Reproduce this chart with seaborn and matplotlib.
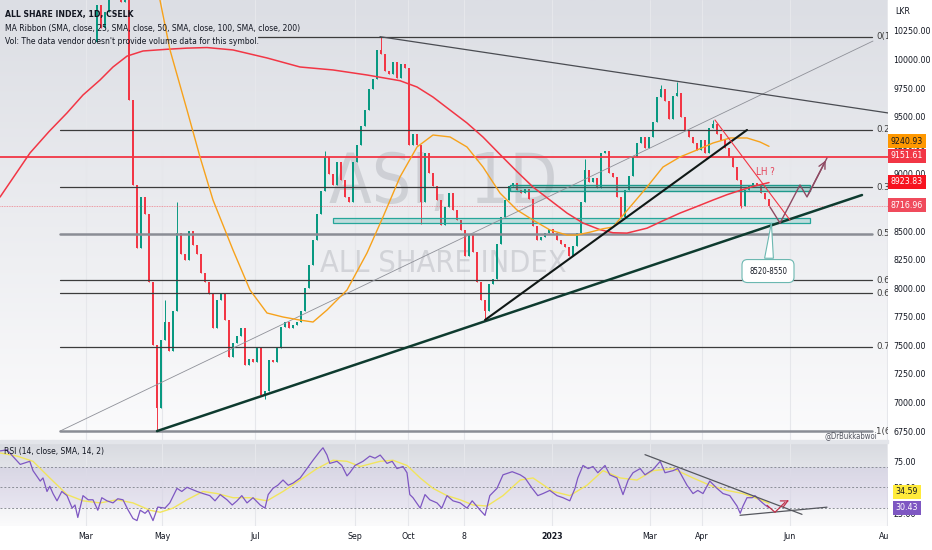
import numpy as np
import pandas as pd
import matplotlib
matplotlib.use("Agg")
import matplotlib.pyplot as plt
import seaborn as sns
from matplotlib import font_manager as fm
from matplotlib.colors import LinearSegmentedColormap
from matplotlib.patches import Rectangle, Polygon
from matplotlib.transforms import Bbox, TransformedBbox

# ---------------- data ----------------
# daily-ish closes, one bar per step, starting early March 2022
first_open = 10150
closes = [10480, 10280, 10420, 10560, 10600, 10650, 10500, 10560, 9650, 8900,
          8350, 8800, 8650, 8050, 7500, 6950, 7550, 7700, 7450, 7800,
          8480, 8300, 8250, 8500, 8380, 8300, 8130, 8050, 7950, 7650,
          7900, 7960, 7720, 7400, 7520, 7580, 7650, 7330, 7380, 7350,
          7480, 7070, 7100, 7370, 7350, 7480, 7660, 7700, 7650, 7680,
          7700, 7800, 8000, 8200, 8420, 8650, 8850, 9150, 9000, 8900,
          9100, 8950, 8800, 8750, 9100, 9250, 9420, 9560, 9740, 9830,
          10080, 10050, 9900, 9870, 9980, 9840, 9960, 9930, 9250, 9350,
          9250, 8750, 9180, 9010, 8890, 8770, 8550, 8710, 8830, 8680,
          8600, 8510, 8280, 8470, 8320, 8050, 7900, 7800, 8040, 8080,
          8390, 8620, 8770, 8890, 8920, 8860, 8830, 8870, 8780, 8540,
          8420, 8450, 8480, 8520, 8480, 8420, 8390, 8360, 8280, 8370,
          8480, 8750, 9030, 8930, 8960, 8880, 9180, 9200, 9010, 8970,
          8800, 8620, 8860, 8980, 9150, 9270, 9320, 9230, 9320, 9450,
          9670, 9740, 9640, 9480, 9680, 9710, 9500, 9380, 9320, 9270,
          9210, 9300, 9180, 9400, 9440, 9350, 9300, 9230, 9150, 9060,
          8950, 8720, 8860, 8900, 8920, 8900, 8830, 8780, 8716.96]
bar_highs = {17: 7900, 20: 8750, 57: 9200, 71: 10200, 122: 9130, 141: 9780, 145: 9800, 154: 9470}
bar_lows = {15: 6750, 42: 7030, 81: 8560, 97: 7720, 161: 8700}

# MA ribbon lines (bar position, value)
ma_long_x = [-24.25, -20.5, -16.75, -12, -7.5, -3.5, 0.75, 4, 7.5, 11.5, 17.5, 22.5, 27.5, 34, 42.5,
             50.75, 59, 67.5, 75.75, 80, 84, 88, 92.5, 96.5, 100.75, 105, 109, 113.25, 117.5,
             121.5, 125.75, 129, 132.5, 137.5, 141.5, 145.75, 150, 154, 157.5, 160.75, 164, 168]
ma_long_v = [8797, 8990, 9183, 9370, 9533, 9690, 9821, 9935, 10030, 10075, 10090, 10100, 10105, 10084,
             10014, 9935, 9909, 9865, 9815, 9760, 9672, 9565, 9445, 9322, 9170, 9020, 8885, 8771,
             8657, 8570, 8512, 8485, 8482, 8525, 8590, 8657, 8715, 8771, 8818, 8855, 8890, 8923.83]
ma_mid_x = [15, 18.25, 22.5, 25.75, 29, 34, 38.25, 42.5, 46.5, 50.75, 54, 57.5, 62.5, 67.5, 71.5,
            75.75, 80, 84, 88.25, 92.5, 96.5, 100.75, 105, 109, 113.25, 117.5, 120, 123.25,
            126.5, 129, 133.25, 137.5, 141.5, 145.75, 150, 154, 158.25, 162.5, 165.75, 168]
ma_mid_v = [10650, 10084, 9559, 9148, 8771, 8334, 7984, 7783, 7748, 7721, 7704, 7809, 7984, 8308, 8623,
            8973, 9235, 9340, 9323, 9235, 9060, 8832, 8684, 8596, 8509, 8465, 8465, 8490,
            8520, 8535, 8710, 8885, 9060, 9148, 9209, 9270, 9314, 9314, 9279, 9240.93]

# RSI (14) and its SMA
rsi_x = [-24.2, -22.5, -19.2, -16.8, -16, -14.2, -13.5, -12.5, -11.8, -11, -10, -8.8, -7.5, -6.2,
         -5.5, -4.8, -3.5, -2.2, -1, 0.2, 1.2, 2.5, 4, 5.2, 6.5, 7.8, 9, 10, 10.8, 12, 12.8, 14,
         15.2, 17, 18.2, 20, 21.2, 22.5, 25, 26.5, 28.2, 29.5, 30.8, 32.5, 33.8, 35, 36.2, 37.5,
         39, 40.8, 42, 42.8, 44, 45.2, 46.5, 47.8, 49, 50.8, 52.5, 54, 55.8, 56.5, 57.5, 58.2,
         60, 61.2, 62.5, 63.2, 64.5, 66.5, 68.2, 69.5, 70.8, 72.5, 73.8, 75, 76.5, 77.5, 78.2,
         79, 80.8, 82, 83.2, 85, 86.2, 87.5, 89, 90.8, 92.5, 93.8, 95.8, 97, 98.2, 100, 101.5,
         103.8, 105.8, 107, 108.8, 110.2, 111.5, 113.2, 115, 116.5, 118.2, 119.5, 120.2, 121.5,
         122.8, 124, 125.2, 127, 128.2, 130, 131.5, 132.8, 134, 135.8, 137, 139, 140.8, 142,
         144, 145.2, 147.5, 149, 150.2, 151.5, 153.2, 155, 156.5, 158.2, 160, 160.8, 161.5,
         162.5, 163.8, 164.5, 165.8, 167, 168]
rsi_v = [85, 86, 72, 75, 66, 56, 59, 46, 51, 44, 37, 46, 42, 30,
         33, 21, 42, 38, 38, 28, 40, 37, 35, 39, 38, 28, 20, 18, 28, 25, 28, 18,
         31, 30, 35, 49, 46, 50, 46, 44, 42, 37, 43, 38, 33, 37, 42, 35,
         40, 33, 30, 43, 49, 52, 57, 52, 54, 59, 68, 76, 85, 88, 81, 73,
         75, 71, 61, 64, 71, 75, 80, 78, 81, 73, 75, 68, 70, 64, 43,
         40, 30, 43, 38, 35, 30, 42, 37, 35, 30, 37, 28, 23, 42, 49, 62,
         65, 62, 59, 49, 42, 44, 47, 42, 40, 37, 49, 59, 71,
         68, 70, 64, 71, 62, 59, 43, 57, 64, 68, 62, 67, 75, 64,
         66, 68, 52, 44, 47, 44, 56, 49, 44, 42, 32, 25, 32,
         40, 40, 42, 37, 33, 30.43]
rsi_ma_x = [-24.2, -20, -16, -11.8, -7.5, -3.5, 0.8, 5, 9, 13.2, 15.8, 19, 22.5, 26.5, 30, 34,
            38.2, 42.5, 46.5, 50.8, 55, 59, 62.5, 65.8, 70.8, 74, 77.5, 80.8, 84, 87.5, 90.8,
            94, 97.5, 101.5, 105.8, 109, 114, 118.2, 122.5, 126.5, 130.8, 135, 139, 144, 149,
            153.2, 157.5, 161.5, 165.8, 168]
rsi_ma_v = [83, 80, 75, 59, 43, 37, 35, 38, 35, 28, 26, 30, 38, 46, 44, 40,
            40, 37, 46, 57, 68, 76, 75, 70, 75, 76, 71, 59, 49, 42, 38,
            33, 32, 42, 57, 59, 46, 42, 52, 66, 59, 57, 66, 68, 59,
            52, 47, 44, 38, 34.59]

price_ticks = list(range(6750, 10251, 250))
x_tick_bars = [-2.75, 16.25, 39.5, 64.5, 77.75, 91.75, 113.75, 138.25, 151.25, 173.25, 197.5]
x_tick_labels = ["Mar", "May", "Jul", "Sep", "Oct", "8", "2023", "Mar", "Apr", "Jun", "Aug"]

fib_high, fib_low = 10200, 6750
fib_ratios = [0, 0.236, 0.382, 0.5, 0.618, 0.65, 0.786, 1]
red_level = 9151.61
last_price = 8716.96

# ---------------- styling ----------------
sns.set_theme(style="white")
W, H = 932, 550
GREEN, RED = "#089981", "#f23645"


def pick_font(bold=False):
    for f in fm.fontManager.ttflist:
        w = f.weight if isinstance(f.weight, int) else fm.weight_dict.get(f.weight, 400)
        if ("Narrow" in f.name or "Condensed" in f.fname) and (w >= 600) == bold and f.style == "normal":
            return fm.FontProperties(fname=f.fname)
    return fm.FontProperties(family="Roboto", weight="bold" if bold else "normal")


fp = pick_font()
fpb = pick_font(True)
FS = 6.3  # scale label size

fig = plt.figure(figsize=(W / 100, H / 100), dpi=100, facecolor="white")
ax = fig.add_axes([0, 110 / H, 888 / W, 440 / H])
rax = fig.add_axes([0, 24 / H, 888 / W, 83 / H])

xlim = (-24.25, 197.75)
ax.set_xlim(*xlim)
ax.set_ylim(6672, 10521)
rax.set_xlim(*xlim)
rax.set_ylim(12.8, 92.6)

# gradient backgrounds (grey at top, near white at bottom)
for a, top in ((ax, "#dcdee4"), (rax, "#d8dae0")):
    cm = LinearSegmentedColormap.from_list("bg", [top, "#fbfbfc"])
    y0, y1 = a.get_ylim()
    a.imshow(np.linspace(0, 1, 256).reshape(-1, 1), cmap=cm, aspect="auto", origin="upper",
             extent=[xlim[0], xlim[1], y0, y1], zorder=0)
    for b in x_tick_bars:
        a.axvline(b, color="#e6e7eb", lw=0.8, zorder=0.5)
    for s in a.spines.values():
        s.set_visible(False)

# watermark
ax.text(86.5, 8920, "ASI, 1D", fontproperties=fp, fontsize=50, color="#9ea1a9", alpha=0.35,
        ha="center", va="center", zorder=1)
ax.text(86.5, 8220, "ALL SHARE INDEX", fontproperties=fp, fontsize=22, color="#9ea1a9", alpha=0.35,
        ha="center", va="center", zorder=1)

# candles
idx = np.arange(len(closes))
c = np.array(closes, dtype=float)
o = np.array([first_open] + closes[:-1], dtype=float)
cols = [GREEN if cc >= oo else RED for cc, oo in zip(c, o)]
body_lo = np.minimum(o, c)
body_h = np.maximum(np.abs(c - o), 8)
hi = np.maximum(o, c)
lo = np.minimum(o, c)
for k, v in bar_highs.items():
    hi[k] = v
for k, v in bar_lows.items():
    lo[k] = v
ax.vlines(idx, lo, hi, colors=cols, lw=0.7, zorder=3)
ax.bar(idx, body_h, bottom=body_lo, width=0.6, color=cols, zorder=3, linewidth=0)

# MA ribbon
sns.lineplot(x=ma_long_x, y=ma_long_v, ax=ax, color=RED, lw=1.1, zorder=5)
sns.lineplot(x=ma_mid_x, y=ma_mid_v, ax=ax, color="#f7a21b", lw=1.0, zorder=5)

# fib retracement
for r in fib_ratios:
    lvl = fib_high - r * (fib_high - fib_low)
    thick = r in (0.5, 1)
    x0 = 40.25 if r == 0 else -9.25
    ax.plot([x0, 193.75], [lvl, lvl], color="#8a8d95" if thick else "#3c3c3c",
            lw=1.8 if thick else 0.9, zorder=4)
    ax.text(194.75, lvl, "%g(%.2f)" % (r, lvl), fontproperties=fp, fontsize=FS + 0.5,
            color="#3c3c3c", va="center", ha="left", clip_on=True, zorder=4)

# horizontal levels
ax.axhline(red_level, color=RED, lw=1.3, zorder=4)
ax.axhline(last_price, color=RED, lw=0.6, ls=(0, (1, 1)), alpha=0.6, zorder=4)

# support zones
ax.add_patch(Rectangle((59, 8570), 178.25 - 59, 45, fc="#26a69a", alpha=0.22, ec="none", zorder=4))
ax.add_patch(Rectangle((59, 8570), 178.25 - 59, 45, fc="none", ec="#26a69a", lw=0.9, zorder=4))
ax.add_patch(Rectangle((103.25, 8850), 75, 55, fc="#26a69a", alpha=0.3, ec="none", zorder=4))
ax.add_patch(Rectangle((103.25, 8850), 75, 55, fc="none", ec="#1f9a8c", lw=1.0, zorder=4))

# trend lines
ax.plot([-9.25, 194], [6750, 10162], color="#8e9098", lw=0.6, zorder=4)
ax.plot([70.75, 197.75], [10200, 9533], color="#4a4c52", lw=0.9, zorder=4)
ax.plot([15, 191.25], [6750, 8815], color="#0e3b2f", lw=1.8, zorder=6)
ax.plot([97, 162.5], [7722, 9384], color="#101816", lw=1.5, zorder=6)
ax.plot([154.5, 173.25], [9471, 8596], color=RED, lw=0.8, zorder=6)

# projected path
path_x = [168.25, 170.75, 175.75, 177.5, 182.5]
path_y = [8710, 8570, 8903, 8798, 9139]
ax.plot(path_x, path_y, color="#8e4a63", lw=1.0, zorder=6)
ax.annotate("", xy=(path_x[-1], path_y[-1]), xytext=(path_x[-2], path_y[-2]),
            arrowprops=dict(arrowstyle="->", color="#8e4a63", lw=1.0), zorder=6)
ax.text(167, 9016, "LH ?", fontproperties=fp, fontsize=7, color="#e5435a", ha="center",
        va="center", zorder=7)

# callout box
ax.add_patch(Polygon([(166.9, 8262), (168.6, 8572), (169.1, 8262)], closed=True, fc="white",
                     ec="#6cb8b1", lw=0.8, zorder=7))
ax.text(167.75, 8150, "8520-8550", fontproperties=fp, fontsize=5.6, color="#131722", ha="center",
        va="center", zorder=8,
        bbox=dict(boxstyle="round,pad=0.9,rounding_size=0.7", fc="white", ec="#6cb8b1", lw=0.8))

# right price scale
ax.yaxis.tick_right()
ax.set_yticks(price_ticks)
ax.set_yticklabels(["%.2f" % v for v in price_ticks])
ax.tick_params(axis="y", length=0, pad=4, labelcolor="#131722")
ax.set_xticks([])
for lbl in ax.get_yticklabels():
    lbl.set_fontproperties(fp)
    lbl.set_size(FS)
ax.set_xlabel("")
ax.set_ylabel("")


def ptext(x, y, s, **kw):
    fig.text(x / W, 1 - y / H, s, **kw)


def price_box(y, s, fc, tc="white"):
    ptext(907, y, s, fontproperties=fp, fontsize=FS, color=tc, ha="center", va="center",
          bbox=dict(boxstyle="square,pad=0.3", fc=fc, ec="none"), zorder=10)


price_box(141, "9240.93", "#ff9800", "#131722")
price_box(156, "9151.61", "#f23645")
price_box(182, "8923.83", "#f7131f")
price_box(205, "8716.96", "#f04b5c")
ptext(895, 12, "LKR", fontproperties=fp, fontsize=FS, color="#131722", va="center")

# header legend
ptext(5, 14, "ALL SHARE INDEX, 1D, CSELK", fontproperties=fpb, fontsize=6.2, color="#131722", va="center")
ptext(5, 28, "MA Ribbon (SMA, close, 25, SMA, close, 50, SMA, close, 100, SMA, close, 200)",
      fontproperties=fp, fontsize=6.1, color="#131722", va="center")
ptext(5, 42, "Vol: The data vendor doesn't provide volume data for this symbol.",
      fontproperties=fp, fontsize=6.1, color="#131722", va="center")
ptext(851, 436, "@DrBukkabwoi", fontproperties=fp, fontsize=5.6, color="#50535e", ha="center", va="center")

# ---------------- RSI panel ----------------
rax.axhspan(30, 70, color="#7e57c2", alpha=0.09, zorder=1, lw=0)
for lv in (70, 50, 30):
    rax.axhline(lv, color="#8c8f98", lw=0.7, ls=(0, (2, 2)), zorder=2)
sns.lineplot(x=rsi_ma_x, y=rsi_ma_v, ax=rax, color="#f2e55c", lw=1.0, zorder=3)
sns.lineplot(x=rsi_x, y=rsi_v, ax=rax, color="#7e57c2", lw=0.9, zorder=4)
rax.plot([137, 176.25], [81.4, 24], color="#55575e", lw=0.9, zorder=5)
rax.plot([160.75, 182.5], [23.1, 30.9], color="#55575e", lw=0.9, zorder=5)
rax.plot([167.5, 169.5, 172], [32.7, 26, 35.6], color="#c0304a", lw=0.9, zorder=6)
rax.annotate("", xy=(173, 37.5), xytext=(172, 35.6),
             arrowprops=dict(arrowstyle="->", color="#c0304a", lw=0.9), zorder=6)
rax.text(-23.2, 84, "RSI (14, close, SMA, 14, 2)", fontproperties=fp, fontsize=6.1, color="#131722",
         va="center", zorder=7)

rax.yaxis.tick_right()
rax.set_yticks([25, 50, 75])
rax.set_yticklabels(["25.00", "50.00", "75.00"])
rax.tick_params(axis="y", length=0, pad=4, labelcolor="#131722")
rax.set_xticks(x_tick_bars)
rax.set_xticklabels(x_tick_labels)
rax.tick_params(axis="x", length=0, pad=4.5, labelcolor="#131722")
for lbl in rax.get_yticklabels():
    lbl.set_fontproperties(fp)
    lbl.set_size(FS)
clip = TransformedBbox(Bbox([[0, 0], [888 / W, 1]]), fig.transFigure)
for lbl in rax.get_xticklabels():
    lbl.set_fontproperties(fpb if lbl.get_text() == "2023" else fp)
    lbl.set_size(FS)
    lbl.set_clip_on(True)
    lbl.set_clip_box(clip)
rax.set_xlabel("")
rax.set_ylabel("")

price_box(492, "34.59", "#ffeb3b", "#131722")
price_box(508, "30.43", "#7e57c2")

# panel separator
fig.patches.append(Rectangle((0, 1 - 443 / H), 888 / W, 3 / H, transform=fig.transFigure,
                             color="#e3e5ea", zorder=0))

fig.savefig("out.png", dpi=100, facecolor="white")
